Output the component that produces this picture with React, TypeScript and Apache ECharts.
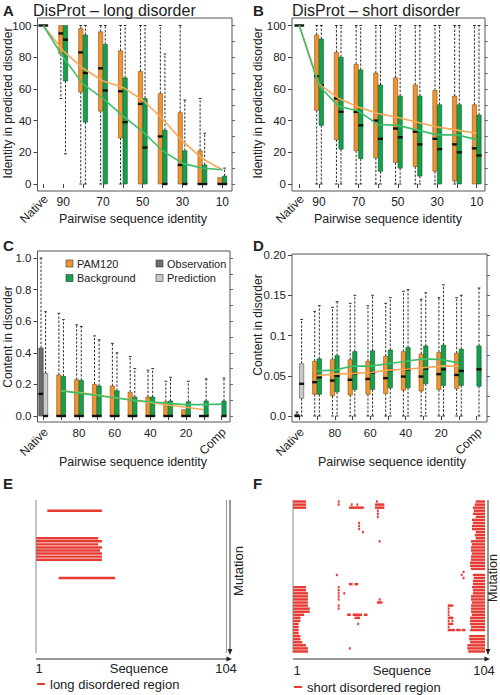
import React, { useEffect, useRef } from "react";
import * as echarts from "echarts";

const FONT = "'Liberation Sans', Arial, Helvetica, sans-serif";
const ORANGE = "#EE9433";
const GREEN = "#17A04B";
const ORANGE_LINE = "#F6A955";
const GREEN_LINE = "#3DBE6A";
const DARK_GRAY = "#6E6E6E";
const LIGHT_GRAY = "#C9C9C9";
const RED = "#E63A33";

// ---------- categories & tick labels ----------
const catsAB = ["Native", "90", "80", "70", "60", "50", "40", "30", "20", "10"];
const catsCD = ["Native", "90", "80", "70", "60", "50", "40", "30", "20", "10", "Comp"];
const shownAB = ["90", "70", "50", "30", "10"];
const shownCD = ["80", "60", "40", "20"];
const yTicksC = ["0.0", "0.2", "0.4", "0.6", "0.8", "1.0"];
const yTicksD = ["0.0", "0.05", "0.1", "0.15", "0.20"];

// ---------- box data: [category index, min, q1, median, q3, max] ----------
const boxA_pam = [
  [0, 100, 100, 100, 100, 100],
  [1, 54, 82, 95, 100, 100],
  [2, 0, 58, 83, 98, 100],
  [3, 0, 46, 73, 96, 100],
  [4, 0, 29, 58.5, 84, 100],
  [5, 0, 0, 50.5, 71, 100],
  [6, 0, 0, 30, 57, 100],
  [7, 0, 0, 12, 45, 100],
  [8, 0, 0, 0, 21, 54],
  [9, 0, 0, 0, 4, 4],
];
const boxA_bg = [
  [0, 100, 100, 100, 100, 100],
  [1, 19, 65, 91, 100, 100],
  [2, 0, 39, 70, 94, 100],
  [3, 0, 0, 59, 88, 100],
  [4, 0, 0, 39, 67, 100],
  [5, 0, 0, 23, 54, 100],
  [6, 0, 0, 0, 34, 82],
  [7, 0, 0, 0, 21, 53],
  [8, 0, 0, 0, 12, 32],
  [9, 0, 0, 0, 5, 10],
];
const lineA_pam = [100, 84, 73, 65, 61, 53, 41, 27, 16, 9];
const lineA_bg = [100, 80, 63, 54, 43, 33, 21, 13, 10, 9];

const boxB_pam = [
  [0, 100, 100, 100, 100, 100],
  [1, 0, 46.5, 68, 94, 100],
  [2, 0, 28, 54, 83, 100],
  [3, 0, 21, 45.5, 75.5, 100],
  [4, 0, 16.5, 40, 70, 100],
  [5, 0, 13.5, 35, 67, 100],
  [6, 0, 11, 33, 62.5, 100],
  [7, 0, 8, 28.5, 59, 100],
  [8, 0, 2, 25, 55.5, 100],
  [9, 0, 0, 22.5, 50, 100],
];
const boxB_bg = [
  [0, 100, 100, 100, 100, 100],
  [1, 0, 37, 62, 91.5, 100],
  [2, 0, 22, 45.5, 80, 100],
  [3, 0, 16, 37, 72, 100],
  [4, 0, 8, 28.5, 62.5, 100],
  [5, 0, 10, 29.5, 55.5, 100],
  [6, 0, 5, 25, 55.5, 100],
  [7, 0, 0, 22, 50, 100],
  [8, 0, 0, 20, 50, 100],
  [9, 0, 0, 18, 43.5, 100],
];
const lineB_pam = [100, 63, 54, 48.5, 44.5, 42, 39, 36, 34, 32];
const lineB_bg = [100, 62, 49, 46, 37.5, 37, 34, 31, 31, 28];

const boxC_obs = [[0, 0, 0, 0.14, 0.43, 1.0]];
const boxC_pred = [[0, 0, 0, 0, 0.27, 0.66]];
const boxC_pam = [
  [1, 0, 0, 0, 0.26, 0.65],
  [2, 0, 0, 0, 0.23, 0.577],
  [3, 0, 0, 0, 0.2, 0.507],
  [4, 0, 0, 0, 0.19, 0.46],
  [5, 0, 0, 0, 0.15, 0.376],
  [6, 0, 0, 0, 0.12, 0.29],
  [7, 0, 0, 0, 0.09, 0.22],
  [8, 0, 0, 0, 0.04, 0.04],
  [9, 0, 0, 0, 0, 0],
];
const boxC_bg = [
  [1, 0, 0, 0, 0.25, 0.61],
  [2, 0, 0, 0, 0.225, 0.567],
  [3, 0, 0, 0, 0.19, 0.482],
  [4, 0, 0, 0, 0.16, 0.4],
  [5, 0, 0, 0, 0.12, 0.3],
  [6, 0, 0, 0, 0.12, 0.3],
  [7, 0, 0, 0, 0.095, 0.245],
  [8, 0, 0, 0, 0.09, 0.22],
  [9, 0, 0, 0, 0.095, 0.235],
  [10, 0, 0, 0, 0.095, 0.24],
];
const lineC_pam = [null, 0.16, 0.148, 0.132, 0.117, 0.1, 0.085, 0.07, 0.055, 0.04, null];
const lineC_bg = [null, 0.16, 0.145, 0.13, 0.115, 0.1, 0.09, 0.08, 0.072, 0.072, 0.075];

const boxD_obs = [[0, 0, 0, 0, 0.002, 0.005]];
const boxD_pred = [[0, 0, 0.022, 0.04, 0.065, 0.12]];
const boxD_pam = [
  [1, 0, 0.027, 0.042, 0.068, 0.13],
  [2, 0, 0.025, 0.044, 0.07, 0.135],
  [3, 0, 0.026, 0.045, 0.07, 0.14],
  [4, 0, 0.027, 0.046, 0.068, 0.137],
  [5, 0, 0.028, 0.047, 0.074, 0.14],
  [6, 0, 0.032, 0.049, 0.08, 0.155],
  [7, 0, 0.031, 0.049, 0.077, 0.145],
  [8, 0, 0.033, 0.052, 0.079, 0.147],
  [9, 0, 0.034, 0.051, 0.078, 0.147],
];
const boxD_bg = [
  [1, 0, 0.027, 0.048, 0.071, 0.137],
  [2, 0, 0.03, 0.05, 0.075, 0.142],
  [3, 0, 0.033, 0.053, 0.08, 0.15],
  [4, 0, 0.033, 0.054, 0.081, 0.15],
  [5, 0, 0.035, 0.057, 0.082, 0.147],
  [6, 0, 0.035, 0.058, 0.085, 0.157],
  [7, 0, 0.04, 0.059, 0.087, 0.153],
  [8, 0, 0.038, 0.058, 0.088, 0.163],
  [9, 0, 0.038, 0.056, 0.083, 0.15],
  [10, 0, 0.037, 0.058, 0.087, 0.159],
];
const lineD_pam = [null, 0.05, 0.052, 0.053, 0.054, 0.057, 0.058, 0.06, 0.062, 0.062, null];
const lineD_bg = [null, 0.056, 0.057, 0.062, 0.062, 0.065, 0.068, 0.071, 0.07, 0.066, null];

// ---------- panel E: [mutation row, start residue, end residue] ----------
const eSegments = [
  [3, 7, 36],
  [12, 1, 34], [13, 1, 36], [14, 1, 34], [15, 1, 36],
  [16, 1, 35], [17, 1, 36], [18, 1, 36], [19, 1, 36],
  [25, 13, 43],
];

// ---------- panel F ----------
const fLeftRows = [0, 1, 2, 28, 29, 30, 31, 32, 33, 34, 35, 36, 37, 38, 39, 40, 41, 42, 43, 44, 45, 46, 47, 48, 49];
const fLeftEnds = [8, 8, 8, 8, 8, 9, 9, 9, 9, 9, 10, 10, 7, 5, 5, 4, 4, 4, 4, 5, 5, 6, 8, 9, 9];
const fRightStarts = [
  99, 98.5, 97.5, 98, 97.5, 99, 97, 97.5, 97, 97,
  99, 98.5, 99, 96.5, 97, 96.5, 96.5, 97, 96.5, 96.5,
  96, 96, 96.5, null, 97.5, 98, 97.5, 97.5, 97, 97.5,
  97.5, 96.5, 96.5, 97, 96.5, 96.5, 96.5, 97, 96, 96,
  96, 96.5, 96, null, 95.5, 95.5, 96, 94.5, 94.5, 95,
];
const fSpots = [
  [0, 25, 26], [1, 25, 26],
  [1, 32, 33], [1, 35, 36], [2, 31, 39],
  [0, 45.5, 46.5], [1, 45, 50], [2, 45, 50], [3, 46, 47], [4, 46, 47], [5, 46, 47],
  [7, 36, 37], [8, 36, 37], [9, 36, 37], [10, 38, 39],
  [13, 47, 48],
  [24, 24, 25],
  [27, 31, 33], [27, 34, 36],
  [28, 25, 26], [29, 25, 26], [30, 25, 26], [31, 25, 26], [32, 25, 26],
  [30, 28, 29],
  [32, 47, 48], [33, 46, 49],
  [34, 25, 26], [35, 25, 26],
  [37, 30, 32], [37, 33, 38], [37, 39, 41], [38, 34, 37], [40, 35.5, 36.5],
  [48, 31, 32],
  [23, 92, 93], [24, 91, 92], [25, 92, 93],
  [34, 84, 87], [35, 84, 85], [36, 84, 85], [37, 84, 85], [38, 84, 87],
  [39, 84, 85], [39, 86, 87], [40, 84, 87], [41, 84, 85],
  [42, 84, 88], [42, 88.5, 91], [42, 91.5, 93.5],
];
const SEQ_LEN = 104;
const N_ROWS = 50;

const fSegments: number[][] = [];
fLeftRows.forEach((r, i) => fSegments.push([r, 1, fLeftEnds[i]]));
fRightStarts.forEach((s, r) => {
  if (s !== null) fSegments.push([r, s as number, SEQ_LEN]);
});
fSpots.forEach((s) => fSegments.push(s));

// ---------- renderers ----------
const makeBox = (off: number, w: number, fill: string, stroke: string) => (_p: any, api: any) => {
  const i = api.value(0);
  const ys = [1, 2, 3, 4, 5].map((d) => api.coord([i, api.value(d)])[1]);
  const [yMin, yQ1, yMed, yQ3, yMax] = ys;
  const cx = api.coord([i, 0])[0] + off;
  const dash = { stroke: "#2e2e2e", lineWidth: 1, lineDash: [2.4, 1.6], fill: null };
  const solid = { stroke: "#2e2e2e", lineWidth: 1, fill: null };
  const ch: any[] = [];
  if (yQ3 - yMax > 0.5) {
    ch.push({ type: "line", shape: { x1: cx, y1: yQ3, x2: cx, y2: yMax }, style: dash });
    ch.push({ type: "line", shape: { x1: cx - 1.4, y1: yMax, x2: cx + 1.4, y2: yMax }, style: solid });
  }
  if (yMin - yQ1 > 0.5) {
    ch.push({ type: "line", shape: { x1: cx, y1: yQ1, x2: cx, y2: yMin }, style: dash });
    ch.push({ type: "line", shape: { x1: cx - 1.4, y1: yMin, x2: cx + 1.4, y2: yMin }, style: solid });
  }
  if (yQ1 - yQ3 > 0.3) {
    ch.push({
      type: "rect",
      shape: { x: cx - w / 2, y: yQ3, width: w, height: yQ1 - yQ3 },
      style: { fill, stroke, lineWidth: 0.6 },
    });
  }
  ch.push({
    type: "rect",
    shape: { x: cx - w / 2 - 0.4, y: yMed - 1.2, width: w + 0.8, height: 2.4 },
    style: { fill: "#111" },
  });
  return { type: "group", children: ch };
};

const segRender = (_p: any, api: any) => {
  const r = api.value(0);
  const s = api.value(1);
  const e = api.value(2);
  const p1 = api.coord([s, r]);
  const p2 = api.coord([e, r + 1]);
  return {
    type: "rect",
    shape: { x: p1[0], y: p1[1] + 0.3, width: p2[0] - p1[0], height: p2[1] - p1[1] - 0.6 },
    style: { fill: RED },
  };
};

// ---------- helpers for option ----------
const boxSeries = (name: string, data: number[][], xi: number, yi: number, off: number, fill: string, stroke: string) => ({
  type: "custom",
  name,
  xAxisIndex: xi,
  yAxisIndex: yi,
  data,
  encode: { x: 0, y: [1, 2, 3, 4, 5] },
  renderItem: makeBox(off, 4.3, fill, stroke),
  z: 2,
  silent: true,
});

const lineSeries = (name: string, data: (number | null)[], xi: number, yi: number, color: string) => ({
  type: "line",
  name,
  xAxisIndex: xi,
  yAxisIndex: yi,
  data,
  symbol: "none",
  smooth: false,
  connectNulls: false,
  lineStyle: { color, width: 1.6 },
  z: 4,
  silent: true,
});

const catAxis = (gi: number, data: string[], shown: string[], offset: number, size: number) => ({
  type: "category",
  gridIndex: gi,
  data,
  boundaryGap: false,
  offset,
  axisLine: { show: false },
  axisTick: { show: true, interval: 0, length: 4, lineStyle: { color: "#444" } },
  axisLabel: {
    interval: 0,
    margin: 5,
    fontSize: size,
    color: "#222",
    fontFamily: FONT,
    formatter: (v: string) => (shown.includes(v) ? v : ""),
  },
  splitLine: { show: false },
});

const valAxisLeft = (gi: number, max: number, interval: number, offset: number, fmt: (v: number) => string) => ({
  type: "value",
  gridIndex: gi,
  position: "left",
  min: 0,
  max,
  interval,
  offset,
  axisLine: { show: false },
  axisTick: { show: true, length: 4, lineStyle: { color: "#444" } },
  axisLabel: { margin: 6, fontSize: 11.5, color: "#222", fontFamily: FONT, formatter: fmt },
  splitLine: { show: false },
});

const valAxisRight = (gi: number, max: number, interval: number, offset: number) => ({
  type: "value",
  gridIndex: gi,
  position: "right",
  min: 0,
  max,
  interval,
  offset,
  axisLine: { show: false },
  axisTick: { show: true, length: 3, lineStyle: { color: "#666" } },
  axisLabel: { show: false },
  splitLine: { show: false },
});

const T = (text: string, x: number, y: number, o: any = {}) => ({
  type: "text",
  x,
  y,
  rotation: o.rot || 0,
  silent: true,
  z: 10,
  style: {
    text,
    fontSize: o.size || 12,
    fontFamily: FONT,
    fontWeight: o.bold ? "bold" : "normal",
    fill: o.color || "#222",
    align: o.align || "center",
    verticalAlign: "middle",
  },
});
const L = (x1: number, y1: number, x2: number, y2: number, stroke = "#555", w = 1) => ({
  type: "line",
  silent: true,
  z: 10,
  shape: { x1, y1, x2, y2 },
  style: { stroke, lineWidth: w },
});
const Frame = (x: number, y: number, w: number, h: number) => ({
  type: "rect",
  silent: true,
  z: 10,
  shape: { x, y, width: w, height: h },
  style: { fill: "none", stroke: "#555", lineWidth: 1 },
});
const Sq = (x: number, y: number, fill: string) => ({
  type: "rect",
  silent: true,
  z: 10,
  shape: { x, y, width: 7, height: 7 },
  style: { fill, stroke: "#333", lineWidth: 0.6 },
});
const Tri = (pts: number[][], fill = "#222") => ({
  type: "polygon",
  silent: true,
  z: 10,
  shape: { points: pts },
  style: { fill },
});

const graphics: any[] = [
  // frames
  Frame(37.5, 18, 194.5, 173),
  Frame(292, 18, 193, 173),
  Frame(37.5, 251, 192.5, 171),
  Frame(292, 254, 195, 168),
  // panel letters & titles
  T("A", 3, 10, { bold: true, size: 15, align: "left" }),
  T("DisProt – long disorder", 33, 10, { size: 16, align: "left" }),
  T("B", 253, 10, { bold: true, size: 15, align: "left" }),
  T("DisProt – short disorder", 292, 10, { size: 16, align: "left" }),
  T("C", 3, 245, { bold: true, size: 15, align: "left" }),
  T("D", 253, 245, { bold: true, size: 15, align: "left" }),
  T("E", 3, 483, { bold: true, size: 15, align: "left" }),
  T("F", 253, 483, { bold: true, size: 15, align: "left" }),
  // axis names
  T("Identity in predicted disorder", 7.5, 103, { rot: Math.PI / 2, size: 12 }),
  T("Identity in predicted disorder", 257.5, 103, { rot: Math.PI / 2, size: 12 }),
  T("Pairwise sequence identity", 133, 219, { size: 12.5 }),
  T("Pairwise sequence identity", 388, 219, { size: 12.5 }),
  T("Content in disorder", 7.5, 337, { rot: Math.PI / 2, size: 12 }),
  T("Content in disorder", 257.5, 325, { rot: Math.PI / 2, size: 12 }),
  T("Pairwise sequence identity", 133, 462, { size: 12.5 }),
  T("Pairwise sequence identity", 392, 462, { size: 12.5 }),
  // rotated category labels
  T("Native", 46, 197, { rot: Math.PI / 4, size: 12, align: "right" }),
  T("Native", 302, 197, { rot: Math.PI / 4, size: 12, align: "right" }),
  T("Native", 46, 430, { rot: Math.PI / 4, size: 12, align: "right" }),
  T("Comp", 224, 430, { rot: Math.PI / 4, size: 12, align: "right" }),
  T("Native", 302, 430, { rot: Math.PI / 4, size: 12, align: "right" }),
  T("Comp", 480, 430, { rot: Math.PI / 4, size: 12, align: "right" }),
  // legend in C
  Sq(66, 260, ORANGE),
  T("PAM120", 77, 263.5, { size: 11, align: "left" }),
  Sq(66, 274.5, GREEN),
  T("Background", 77, 278, { size: 11, align: "left" }),
  Sq(156, 260, DARK_GRAY),
  T("Observation", 167, 263.5, { size: 11, align: "left" }),
  Sq(156, 274.5, LIGHT_GRAY),
  T("Prediction", 167, 278, { size: 11, align: "left" }),
  // E axes
  L(36, 500, 36, 653, "#888", 1),
  L(226.5, 500, 226.5, 653, "#999", 1),
  L(230, 500, 230, 650, "#333", 1),
  Tri([[227.6, 649], [232.4, 649], [230, 655]]),
  L(36, 659, 227, 659, "#333", 1),
  Tri([[226.5, 656.6], [226.5, 661.4], [232, 659]]),
  T("1", 39, 668, { size: 13 }),
  T("Sequence", 139, 668, { size: 13 }),
  T("104", 226, 668, { size: 13 }),
  L(37, 684, 45, 684, RED, 2),
  T("long disordered region", 50, 684, { size: 13, align: "left" }),
  T("Mutation", 238.5, 571, { rot: Math.PI / 2, size: 13 }),
  // F axes
  L(293, 500, 293, 653, "#888", 1),
  L(488, 500, 488, 650, "#333", 1),
  Tri([[485.6, 649], [490.4, 649], [488, 655]]),
  L(293, 659, 485, 659, "#333", 1),
  Tri([[484.5, 656.6], [484.5, 661.4], [490, 659]]),
  T("1", 297, 670, { size: 13 }),
  T("Sequence", 402, 670, { size: 13 }),
  T("104", 484, 670, { size: 13 }),
  L(294, 687, 302, 687, RED, 2),
  T("short disordered region", 307, 687, { size: 13, align: "left" }),
  T("Mutation", 492.5, 578, { rot: Math.PI / 2, size: 12.5 }),
];

const gridBase = { containLabel: false, outerBoundsMode: "none", show: false };

const option: any = {
  animation: false,
  backgroundColor: "#ffffff",
  textStyle: { fontFamily: FONT },
  grid: [
    { ...gridBase, left: 43.3, top: 25.5, width: 179, height: 158.5 },
    { ...gridBase, left: 299.3, top: 25.5, width: 177.4, height: 158.5 },
    { ...gridBase, left: 43.3, top: 258, width: 178.4, height: 158 },
    { ...gridBase, left: 299.3, top: 255, width: 177.4, height: 161 },
    { ...gridBase, left: 36, top: 500, width: 194, height: 153 },
    { ...gridBase, left: 293, top: 500, width: 192, height: 153 },
  ],
  xAxis: [
    catAxis(0, catsAB, shownAB, 7, 12),
    catAxis(1, catsAB, shownAB, 7, 12),
    catAxis(2, catsCD, shownCD, 6, 11.5),
    catAxis(3, catsCD, shownCD, 6, 11.5),
    { type: "value", gridIndex: 4, min: 1, max: SEQ_LEN, show: false },
    { type: "value", gridIndex: 5, min: 1, max: SEQ_LEN, show: false },
  ],
  yAxis: [
    valAxisLeft(0, 100, 20, 5.8, (v: number) => String(v)),
    valAxisRight(0, 100, 10, 9.7),
    valAxisLeft(1, 100, 20, 7.3, (v: number) => String(v)),
    valAxisRight(1, 100, 10, 8),
    valAxisLeft(2, 1, 0.2, 5.8, (v: number) => yTicksC[Math.round(v / 0.2)] ?? ""),
    valAxisRight(2, 1, 0.1, 8.3),
    valAxisLeft(3, 0.2, 0.05, 7.3, (v: number) => yTicksD[Math.round(v / 0.05)] ?? ""),
    valAxisRight(3, 0.2, 0.025, 10.3),
    { type: "value", gridIndex: 4, min: 0, max: N_ROWS, inverse: true, show: false },
    { type: "value", gridIndex: 5, min: 0, max: N_ROWS, inverse: true, show: false },
  ],
  series: [
    boxSeries("PAM120", boxA_pam, 0, 0, -2.3, ORANGE, "#8a5310"),
    boxSeries("Background", boxA_bg, 0, 0, 2.3, GREEN, "#0b5a28"),
    lineSeries("PAM120 mean", lineA_pam, 0, 0, ORANGE_LINE),
    lineSeries("Background mean", lineA_bg, 0, 0, GREEN_LINE),

    boxSeries("PAM120", boxB_pam, 1, 2, -2.3, ORANGE, "#8a5310"),
    boxSeries("Background", boxB_bg, 1, 2, 2.3, GREEN, "#0b5a28"),
    lineSeries("PAM120 mean", lineB_pam, 1, 2, ORANGE_LINE),
    lineSeries("Background mean", lineB_bg, 1, 2, GREEN_LINE),

    boxSeries("Observation", boxC_obs, 2, 4, -2.3, DARK_GRAY, "#333"),
    boxSeries("Prediction", boxC_pred, 2, 4, 2.3, LIGHT_GRAY, "#555"),
    boxSeries("PAM120", boxC_pam, 2, 4, -2.3, ORANGE, "#8a5310"),
    boxSeries("Background", boxC_bg, 2, 4, 2.3, GREEN, "#0b5a28"),
    lineSeries("PAM120 mean", lineC_pam, 2, 4, ORANGE_LINE),
    lineSeries("Background mean", lineC_bg, 2, 4, GREEN_LINE),

    boxSeries("Observation", boxD_obs, 3, 6, -2.3, DARK_GRAY, "#333"),
    boxSeries("Prediction", boxD_pred, 3, 6, 2.3, LIGHT_GRAY, "#555"),
    boxSeries("PAM120", boxD_pam, 3, 6, -2.3, ORANGE, "#8a5310"),
    boxSeries("Background", boxD_bg, 3, 6, 2.3, GREEN, "#0b5a28"),
    lineSeries("PAM120 mean", lineD_pam, 3, 6, ORANGE_LINE),
    lineSeries("Background mean", lineD_bg, 3, 6, GREEN_LINE),

    {
      type: "custom",
      name: "long disordered region",
      xAxisIndex: 4,
      yAxisIndex: 8,
      data: eSegments,
      encode: { x: [1, 2], y: 0 },
      renderItem: segRender,
      silent: true,
    },
    {
      type: "custom",
      name: "short disordered region",
      xAxisIndex: 5,
      yAxisIndex: 9,
      data: fSegments,
      encode: { x: [1, 2], y: 0 },
      renderItem: segRender,
      silent: true,
    },
  ],
  graphic: graphics,
};

export default function App() {
  const ref = useRef<HTMLDivElement>(null);
  useEffect(() => {
    if (!ref.current) return;
    const chart = echarts.init(ref.current, null, { renderer: "svg" });
    chart.setOption(option);
    return () => chart.dispose();
  }, []);
  return (
    <div
      ref={ref}
      style={{ position: "fixed", left: 0, top: 0, width: 500, height: 695, background: "#fff" }}
    />
  );
}
